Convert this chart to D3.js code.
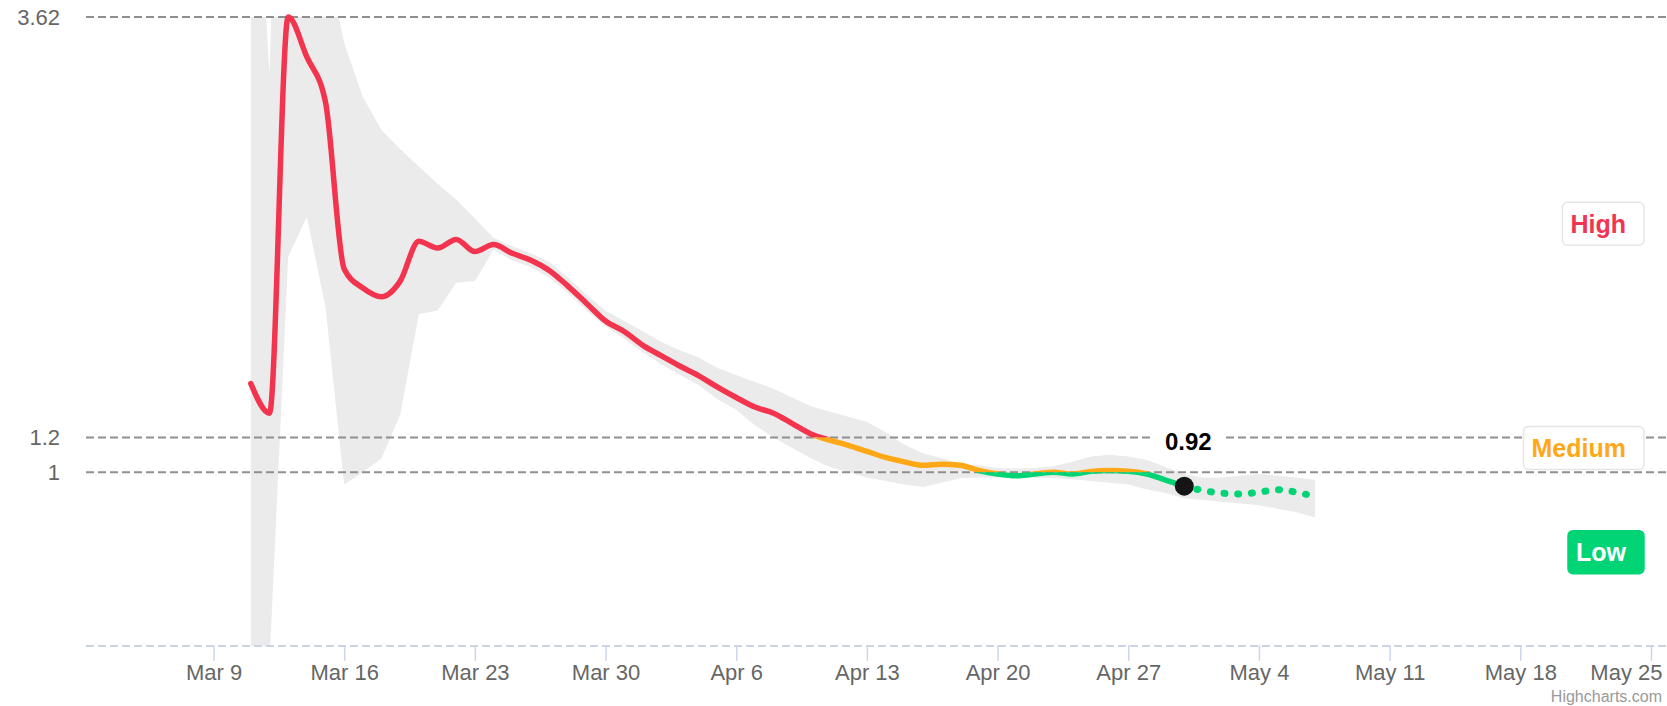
<!DOCTYPE html>
<html>
<head>
<meta charset="utf-8">
<script src="https://cdn.jsdelivr.net/npm/d3@7"></script>
<style>
  html, body { margin: 0; padding: 0; background: #fff; }
  svg { display: block; font-family: "Liberation Sans", Arial, sans-serif; }
</style>
</head>
<body>
<svg id="chart" width="1667" height="706"></svg>
<script>
// daily Rt estimate, Mar 11 .. Apr 30
const firstDay = "2020-03-11";
const rt = [1.51, 1.34, 3.62, 3.39, 3.13, 2.17, 2.06, 2.01, 2.10, 2.33,
  2.29, 2.34, 2.27, 2.31, 2.26, 2.22, 2.16, 2.07, 1.97, 1.87,
  1.81, 1.73, 1.67, 1.61, 1.555, 1.49, 1.43, 1.375, 1.34, 1.28,
  1.22, 1.185, 1.155, 1.12, 1.085, 1.06, 1.04, 1.046, 1.04, 1.01,
  0.99, 0.98, 0.99, 1.00, 0.99, 1.005, 1.01, 1.006, 0.99, 0.955,
  0.92];
// projection, Apr 30 .. May 7
const projected = [0.92, 0.895, 0.88, 0.875, 0.885, 0.90, 0.885, 0.86];
// confidence band, Mar 11 .. May 7
const bandUpper = [5.1, 3.29, 6.8, 5.0, 4.0, 3.47, 3.16, 2.97, 2.86, 2.76,
  2.66, 2.57, 2.46, 2.35, 2.30, 2.26, 2.21, 2.12, 2.02, 1.93,
  1.87, 1.81, 1.75, 1.70, 1.66, 1.60, 1.56, 1.52, 1.48, 1.43,
  1.38, 1.35, 1.32, 1.29, 1.23, 1.16, 1.11, 1.08, 1.05, 1.04,
  1.025, 1.02, 1.025, 1.035, 1.06, 1.09, 1.10, 1.09, 1.07, 1.03,
  0.99, 0.97, 0.97, 0.98, 0.99, 0.98, 0.97, 0.955];
const bandLower = [-0.1, -0.1, 2.24, 2.47, 1.95, 0.93, 1.0, 1.08, 1.33, 1.91,
  1.93, 2.09, 2.10, 2.28, 2.22, 2.18, 2.12, 2.03, 1.93, 1.84,
  1.77, 1.69, 1.62, 1.56, 1.50, 1.42, 1.36, 1.27, 1.20, 1.14,
  1.08, 1.03, 1.00, 0.97, 0.95, 0.93, 0.915, 0.94, 0.965, 0.97,
  0.97, 0.97, 0.97, 0.965, 0.96, 0.95, 0.94, 0.93, 0.90, 0.88,
  0.85, 0.84, 0.83, 0.82, 0.81, 0.79, 0.77, 0.74];
const yTicks = [1, 1.2, 3.62];
const xTickFirst = "2020-03-09", xTickLast = "2020-05-25";
const zoneNames = ["High", "Medium", "Low"];
const zoneBreaks = [3.62, 1.2, 1, 0];
const labelAt = [2.43, 1.14, 0.54];

const COLORS = {High: "#f2344f", Medium: "#ffa817", Low: "#00d474"};
const W = 1667, H = 706,
  plot = {left: 86, right: 1667, top: 17, bottom: 646};

const svg = d3.select("#chart");
const day0 = d3.isoParse(firstDay);
const dayAt = i => d3.utcDay.offset(day0, i);

let x = d3.scaleUtc()
  .domain([d3.isoParse(xTickFirst), d3.isoParse(xTickLast)])
  .range([213.5, 1651]);
let y = d3.scaleLinear()
  .domain([0, 3.62])
  .range([plot.bottom, plot.top]);

let defs = svg.append("defs");
defs.append("clipPath").attr("id", "plotClip")
  .append("rect")
  .attr("x", plot.left).attr("y", plot.top)
  .attr("width", plot.right - plot.left).attr("height", plot.bottom - plot.top);

// one clip per zone, by value range
zoneNames.forEach((z, i) => {
  let top = i === 0 ? 0 : y(zoneBreaks[i]),
    bottom = i === zoneNames.length - 1 ? H : y(zoneBreaks[i + 1]);
  defs.append("clipPath").attr("id", "zone" + i)
    .append("rect")
    .attr("x", plot.left).attr("y", top)
    .attr("width", plot.right - plot.left)
    .attr("height", bottom - top);
});

// band
let band = d3.area()
  .x((d, i) => x(dayAt(i)))
  .y0((d, i) => y(bandLower[i]))
  .y1(d => y(d));
svg.append("g").attr("clip-path", "url(#plotClip)")
  .append("path")
  .datum(bandUpper)
  .attr("d", band)
  .attr("fill", "#ebebeb");

// grid
svg.append("g").selectAll("line").data(yTicks).join("line")
  .attr("x1", plot.left).attr("x2", plot.right)
  .attr("y1", d => y(d)).attr("y2", d => y(d))
  .attr("stroke", "#8f8f8f")
  .attr("stroke-width", 2)
  .attr("stroke-dasharray", "8,4");
svg.append("line")
  .attr("x1", plot.left).attr("x2", plot.right)
  .attr("y1", y(0)).attr("y2", y(0))
  .attr("stroke", "#ccd3e2")
  .attr("stroke-width", 2)
  .attr("stroke-dasharray", "8,4");

svg.append("g").selectAll("text").data(yTicks).join("text")
  .attr("x", 60).attr("y", d => y(d) + 8)
  .attr("text-anchor", "end")
  .attr("font-size", 22)
  .attr("fill", "#666")
  .text(d => d);

// x axis
let xAxis = d3.axisBottom(x)
  .ticks(d3.utcMonday.every(1))
  .tickFormat(d3.utcFormat("%b %-d"))
  .tickSize(16)
  .tickPadding(3);
let xg = svg.append("g")
  .attr("transform", "translate(0," + (y(0) - 1) + ")")
  .call(xAxis);
xg.select(".domain").remove();
xg.selectAll(".tick line").attr("stroke", "#ccd6eb").attr("stroke-width", 1.5);
xg.selectAll(".tick text")
  .attr("font-family", "Liberation Sans, Arial, sans-serif")
  .attr("font-size", 22)
  .attr("fill", "#666")
  .attr("dy", "0.71em");
// keep the last label inside the chart, like highcharts does
xg.selectAll(".tick text").each(function () {
  let t = d3.select(this),
    tx = x(d3.select(this.parentNode).datum()),
    w = this.getComputedTextLength();
  if (tx + w / 2 > W - 5) t.attr("text-anchor", "end").attr("x", W - 5 - tx);
});

// Rt line coloured by zone
let line = d3.line()
  .x((d, i) => x(dayAt(i)))
  .y(d => y(d))
  .curve(d3.curveMonotoneX);
zoneNames.forEach((z, i) => {
  svg.append("path")
    .datum(rt)
    .attr("clip-path", "url(#zone" + i + ")")
    .attr("d", line)
    .attr("fill", "none")
    .attr("stroke", COLORS[z])
    .attr("stroke-width", 5.5)
    .attr("stroke-linecap", "round")
    .attr("stroke-linejoin", "round");
});

let lastIdx = rt.length - 1;
let projLine = d3.line()
  .x((d, i) => x(dayAt(lastIdx + i)))
  .y(d => y(d))
  .curve(d3.curveMonotoneX);
svg.append("path")
  .datum(projected)
  .attr("d", projLine)
  .attr("fill", "none")
  .attr("stroke", COLORS.Low)
  .attr("stroke-width", 7)
  .attr("stroke-linecap", "round")
  .attr("stroke-dasharray", "1,12.7")
  .attr("stroke-dashoffset", -13);

// last point marker + label
let mx = x(dayAt(lastIdx)), my = y(rt[lastIdx]);
svg.append("circle")
  .attr("cx", mx).attr("cy", my).attr("r", 9.5)
  .attr("fill", "#151515");
let lbl = svg.append("g");
let lblText = lbl.append("text")
  .attr("x", mx + 4).attr("y", my - 36)
  .attr("text-anchor", "middle")
  .attr("font-size", 24)
  .attr("font-weight", "bold")
  .attr("fill", "#000")
  .text(d3.format(".2f")(rt[lastIdx]));
let lb = lblText.node().getBBox();
lbl.insert("rect", "text")
  .attr("x", lb.x - 11).attr("y", lb.y - 4)
  .attr("width", lb.width + 22).attr("height", lb.height + 8)
  .attr("fill", "#fff");

// zone labels on the right
zoneNames.forEach((z, i) => {
  let g = svg.append("g");
  let cy = y(labelAt[i]);
  let t = g.append("text")
    .attr("x", 1626).attr("y", cy + 9)
    .attr("text-anchor", "end")
    .attr("font-size", 25)
    .attr("font-weight", "bold")
    .attr("fill", z === "Low" ? "#fff" : COLORS[z])
    .text(z);
  let b = t.node().getBBox();
  g.insert("rect", "text")
    .attr("x", b.x - 8).attr("y", cy - 21.5)
    .attr("width", 1644 - (b.x - 8)).attr("height", 43)
    .attr("rx", 5)
    .attr("fill", z === "Low" ? COLORS.Low : "#fff")
    .attr("stroke", z === "Low" ? COLORS.Low : "#e6e6e6")
    .attr("stroke-width", 1.5);
});

svg.append("text")
  .attr("x", 1662).attr("y", 702)
  .attr("text-anchor", "end")
  .attr("font-size", 16)
  .attr("fill", "#999")
  .text("Highcharts.com");
</script>
</body>
</html>
